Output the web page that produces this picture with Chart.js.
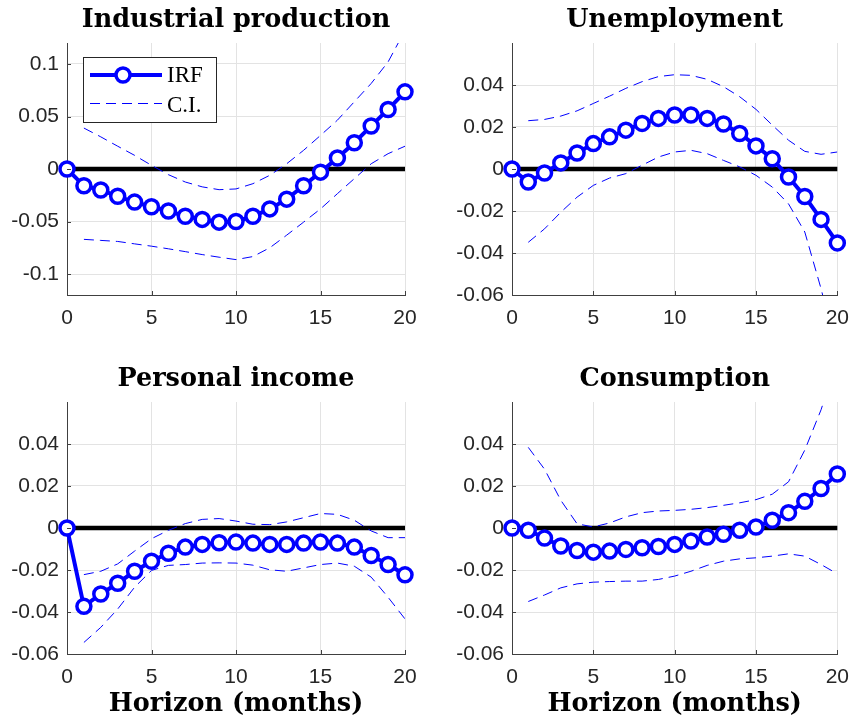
<!DOCTYPE html>
<html><head><meta charset="utf-8">
<script src="https://cdn.jsdelivr.net/npm/chart.js@4.4.1/dist/chart.umd.min.js"></script>
<style>
html,body{margin:0;padding:0;background:#fff;width:860px;height:721px;overflow:hidden;}
canvas{position:absolute;}
</style></head><body>
<canvas id="c1" width="430" height="340" style="left:0px;top:0px"></canvas>
<canvas id="c2" width="415" height="340" style="left:445px;top:0px"></canvas>
<canvas id="c3" width="430" height="362" style="left:0px;top:359px"></canvas>
<canvas id="c4" width="415" height="362" style="left:445px;top:359px"></canvas>
<script>
// ---- data ----
const horizons = [0,1,2,3,4,5,6,7,8,9,10,11,12,13,14,15,16,17,18,19,20];
const zeroLine = [0,0,0,0,0,0,0,0,0,0,0,0,0,0,0,0,0,0,0,0,0];
const xTicks = [0,5,10,15,20];
const yTicksIP = [-0.1,-0.05,0,0.05,0.1];
const yTicksOther = [-0.06,-0.04,-0.02,0,0.02,0.04];
const panelTitles = ['Industrial production','Unemployment','Personal income','Consumption'];
const xAxisTitle = 'Horizon (months)';
const legendLabels = ['IRF','C.I.'];

const ipIRF   = [0,-0.016,-0.020,-0.026,-0.0315,-0.036,-0.040,-0.045,-0.048,-0.0506,-0.050,-0.045,-0.038,-0.0287,-0.016,-0.003,0.0105,0.025,0.041,0.0567,0.0735];
const ipUpper = [null,0.039,0.0306,0.0217,0.013,0.0035,-0.0054,-0.0124,-0.017,-0.0197,-0.019,-0.014,-0.006,0.005,0.0178,0.032,0.0465,0.064,0.0815,0.102,0.132];
const ipLower = [null,-0.067,-0.068,-0.069,-0.0713,-0.0735,-0.076,-0.0787,-0.0815,-0.084,-0.0863,-0.0834,-0.075,-0.063,-0.0506,-0.038,-0.0235,-0.0092,0.005,0.0146,0.0217];

const unIRF   = [0,-0.0062,-0.0019,0.0029,0.0076,0.0121,0.0153,0.0185,0.0217,0.0241,0.0257,0.0257,0.0241,0.0214,0.0169,0.011,0.0049,-0.0038,-0.0131,-0.024,-0.0352];
const unUpper = [null,0.023,0.0236,0.0252,0.0277,0.0312,0.0347,0.0384,0.0416,0.044,0.0449,0.0446,0.0427,0.0392,0.0344,0.0284,0.0209,0.0137,0.0084,0.007,0.0081];
const unLower = [null,-0.0349,-0.0285,-0.0206,-0.0134,-0.0078,-0.0043,-0.0022,0.0018,0.0057,0.0081,0.0089,0.0073,0.0041,0.001,-0.003,-0.0086,-0.0166,-0.030,-0.057,-0.088];

const piIRF   = [0,-0.0373,-0.0314,-0.0263,-0.0206,-0.0158,-0.012,-0.0091,-0.0078,-0.007,-0.0067,-0.0072,-0.0078,-0.0078,-0.0072,-0.0067,-0.0072,-0.0091,-0.0131,-0.0174,-0.0223];
const piUpper = [null,-0.0222,-0.0206,-0.0171,-0.011,-0.0051,-0.0011,0.0021,0.0041,0.0045,0.0033,0.0018,0.0016,0.0029,0.0049,0.0069,0.0065,0.0037,-0.0014,-0.0046,-0.0046];
const piLower = [null,-0.0545,-0.0473,-0.0386,-0.0282,-0.0202,-0.0178,-0.0174,-0.0167,-0.0166,-0.0167,-0.0177,-0.0199,-0.0206,-0.019,-0.0174,-0.0167,-0.0182,-0.0234,-0.033,-0.0433];

const coIRF   = [0,-0.0011,-0.0048,-0.0086,-0.0107,-0.0115,-0.011,-0.0102,-0.0094,-0.0088,-0.0078,-0.0062,-0.0043,-0.003,-0.0011,0.0005,0.0037,0.0073,0.0127,0.0188,0.0257];
const coUpper = [null,0.0384,0.028,0.0132,0.002,0.0005,0.0024,0.0053,0.0073,0.0081,0.0084,0.0089,0.0097,0.0108,0.012,0.0135,0.0161,0.022,0.0371,0.0563,0.08];
const coLower = [null,-0.035,-0.0319,-0.0285,-0.0266,-0.0258,-0.0255,-0.0253,-0.0253,-0.0245,-0.0229,-0.0206,-0.0178,-0.0158,-0.0147,-0.0142,-0.0134,-0.0123,-0.0134,-0.0174,-0.0218];

// ---- styling ----
const BLUE = '#0000ff';
const AXIS = '#404040';
const GRID = '#e3e3e3';
const TICKTXT = '#262626';
const TICKFONT = { family: '"Liberation Sans", Arial, sans-serif', size: 21 };
const TITLEFONT = { family: '"DejaVu Serif", serif', weight: 'bold', size: 25.5, lineHeight: 1.2 };

const pts = (arr) => horizons.map((h, i) => ({x: h, y: arr[i]}));

const innerTicks = {
  id: 'innerTicks',
  afterDraw(chart) {
    const {ctx, chartArea: a, scales: {x, y}} = chart;
    ctx.save();
    ctx.strokeStyle = AXIS; ctx.lineWidth = 1;
    ctx.beginPath();
    x.ticks.forEach(t => { const px = Math.round(x.getPixelForValue(t.value)) + 0.5; ctx.moveTo(px, a.bottom); ctx.lineTo(px, a.bottom - 4); });
    y.ticks.forEach(t => { const py = Math.round(y.getPixelForValue(t.value)) + 0.5; ctx.moveTo(a.left, py); ctx.lineTo(a.left + 4, py); });
    ctx.stroke();
    ctx.restore();
  }
};

const boxLegend = {
  id: 'boxLegend',
  afterDraw(chart) {
    const ctx = chart.ctx;
    const irf = chart.data.datasets[0], ci = chart.data.datasets[1];
    ctx.save();
    ctx.fillStyle = '#fff';
    ctx.fillRect(83, 57, 134, 66);
    ctx.strokeStyle = '#262626'; ctx.lineWidth = 1;
    ctx.strokeRect(83.5, 57.5, 133, 65);
    ctx.strokeStyle = irf.borderColor; ctx.lineWidth = irf.borderWidth;
    ctx.beginPath(); ctx.moveTo(90, 75); ctx.lineTo(162, 75); ctx.stroke();
    ctx.beginPath(); ctx.arc(123, 75, irf.pointRadius, 0, Math.PI * 2);
    ctx.fillStyle = '#fff'; ctx.fill();
    ctx.lineWidth = irf.pointBorderWidth; ctx.stroke();
    ctx.strokeStyle = ci.borderColor; ctx.lineWidth = ci.borderWidth;
    ctx.setLineDash(ci.borderDash);
    ctx.beginPath(); ctx.moveTo(90, 103.5); ctx.lineTo(162, 103.5); ctx.stroke();
    ctx.setLineDash([]);
    ctx.fillStyle = '#000';
    ctx.font = '23px "Liberation Serif"';
    ctx.textBaseline = 'alphabetic'; ctx.textAlign = 'left';
    ctx.fillText(legendLabels[0], 167, 82);
    ctx.fillText(legendLabels[1], 167, 111.5);
    ctx.restore();
  }
};

function makePanel(id, title, irf, up, lo, yMin, yMax, yTicks, showXTitle, showLegend, padRight, xH) {
  const plugins = [innerTicks];
  if (showLegend) plugins.push(boxLegend);
  return new Chart(document.getElementById(id), {
    type: 'line',
    data: {
      datasets: [
        { label: legendLabels[0], data: pts(irf), borderColor: BLUE, borderWidth: 4, pointRadius: 7, pointBorderWidth: 3.5,
          pointBackgroundColor: '#fff', pointBorderColor: BLUE, tension: 0, clip: false },
        { label: legendLabels[1], data: pts(up), borderColor: BLUE, borderWidth: 1, borderDash: [10, 6], pointRadius: 0, tension: 0, spanGaps: false },
        { label: legendLabels[1] + ' lower', data: pts(lo), borderColor: BLUE, borderWidth: 1, borderDash: [10, 6], pointRadius: 0, tension: 0, spanGaps: false },
        { label: 'zero', data: pts(zeroLine), borderColor: '#000', borderWidth: 4.5, pointRadius: 0, tension: 0, clip: false }
      ]
    },
    options: {
      responsive: false, animation: false, devicePixelRatio: 1,
      events: [],
      layout: { padding: { left: 0, right: padRight, top: 0, bottom: 0 } },
      plugins: {
        legend: { display: false },
        tooltip: { enabled: false },
        title: { display: true, text: title, fullSize: false, color: '#000',
          font: TITLEFONT, padding: { top: 5, bottom: 7.4 } }
      },
      scales: {
        x: {
          type: 'linear', min: 0, max: 20,
          afterBuildTicks: s => { s.ticks = xTicks.map(v => ({ value: v })); },
          afterFit: s => { s.height = xH; },
          grid: { color: GRID, lineWidth: 1, drawTicks: false },
          border: { color: AXIS, width: 1 },
          ticks: { color: TICKTXT, font: TICKFONT, padding: 11, maxRotation: 0, callback: v => String(v) },
          title: { display: showXTitle, text: xAxisTitle, color: '#000',
            font: TITLEFONT, padding: { top: 0, bottom: 1.7 } }
        },
        y: {
          type: 'linear', min: yMin, max: yMax,
          afterBuildTicks: s => { s.ticks = yTicks.map(v => ({ value: v })); },
          afterFit: s => { s.width = 67; },
          grid: { color: GRID, lineWidth: 1, drawTicks: false },
          border: { color: AXIS, width: 1 },
          ticks: { color: TICKTXT, font: TICKFONT, padding: 8, callback: v => String(v) }
        }
      }
    },
    plugins
  });
}

makePanel('c1', panelTitles[0], ipIRF, ipUpper, ipLower, -0.12, 0.12, yTicksIP, false, true, 25, 45);
makePanel('c2', panelTitles[1], unIRF, unUpper, unLower, -0.06, 0.06, yTicksOther, false, false, 11.7, 45);
makePanel('c3', panelTitles[2], piIRF, piUpper, piLower, -0.06, 0.06, yTicksOther, true, false, 25, 67);
makePanel('c4', panelTitles[3], coIRF, coUpper, coLower, -0.06, 0.06, yTicksOther, true, false, 11.7, 67);
</script>
</body></html>
